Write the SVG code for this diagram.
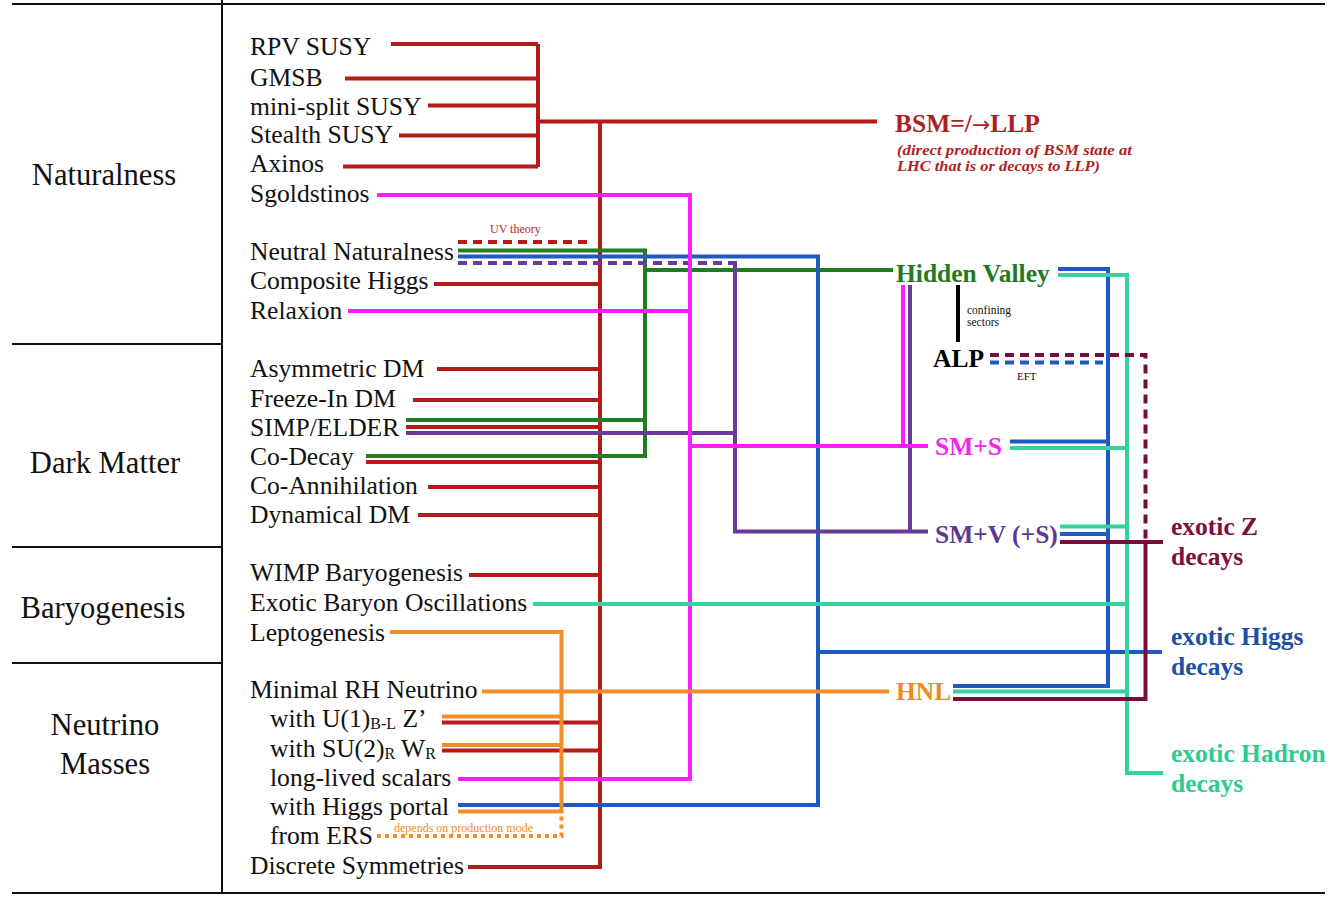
<svg xmlns="http://www.w3.org/2000/svg" width="1336" height="897" viewBox="0 0 1336 897">
<style>
text{font-family:"Liberation Serif","Times New Roman",serif;}
.cat{font-size:30.6px;fill:#111;text-anchor:middle;}
.it{font-size:25.6px;fill:#111;}
.sub{font-size:16px;}
.tg{font-size:25.5px;font-weight:bold;}
.small{font-size:12px;}
.note{font-size:14px;font-weight:bold;font-style:italic;fill:#b01e23;}
.tbl{stroke:#111;stroke-width:2;fill:none;}
.c{fill:none;stroke-width:4;stroke-linejoin:miter;stroke-linecap:butt;}
.red{stroke:#b51b1b;}
.mag{stroke:#ff1cff;}
.grn{stroke:#1f7d24;}
.blu{stroke:#1f5bbf;}
.pur{stroke:#6a3a98;}
.tea{stroke:#33d39a;}
.org{stroke:#f28c28;}
.mar{stroke:#7b0a3d;}
.dash{stroke-dasharray:9 6;}
.dot{stroke-dasharray:4 4;}
</style>
<g id="table">
<path class="tbl" d="M12,4 H1325 M12,893 H1325 M222,0 V893 M12,344 H222 M12,547 H222 M12,663 H222"/>
</g>
<g id="categories">
<g id="cat-naturalness"><text class="cat" x="104" y="185">Naturalness</text></g>
<g id="cat-darkmatter"><text class="cat" x="105" y="473">Dark Matter</text></g>
<g id="cat-baryogenesis"><text class="cat" x="103" y="618">Baryogenesis</text></g>
<g id="cat-neutrino"><text class="cat" x="105" y="735">Neutrino</text><text class="cat" x="105" y="774">Masses</text></g>
</g>
<g id="connectors">
<!-- red -->
<path class="c red" d="M538,44 V167"/>
<path class="c red" d="M391,44 H538 M345,78.5 H538 M428,105.5 H538 M399,135.5 H538 M343,166.5 H538"/>
<path class="c red" d="M538,121.5 H877"/>
<path class="c red" d="M468,867 H600 V121.5"/>
<path class="c red" d="M434,284 H600 M437,369 H600 M413,400 H600 M406,427 H600 M366,462 H600 M428,487 H600 M418,515 H600 M469,575 H600 M442,722.5 H600 M442,750.5 H600"/>
<path class="c red dash" d="M458,242 H593"/>
<!-- green -->
<path class="c grn" d="M458,250.5 H645 V456 H366"/>
<path class="c grn" d="M406,420 H645 M645,270 H893"/>
<!-- blue -->
<path class="c blu" d="M458,256.5 H818 V805 H458"/>
<path class="c blu" d="M818,652 H1162"/>
<path class="c blu" d="M1058,269 H1108 V686 H953"/>
<path class="c blu" d="M1010,441.5 H1108 M1060,534 H1108"/>
<path class="c blu dash" d="M990,362.5 H1103"/>
<!-- purple -->
<path class="c pur dash" d="M458,263 H733"/>
<path class="c pur" d="M733,263 H735 V531.5 H928"/>
<path class="c pur" d="M406,433 H735 M910,285 V531.5"/>
<!-- magenta -->
<path class="c mag" d="M377,195 H690 V779 H458"/>
<path class="c mag" d="M348,311 H690 M690,446 H928 M903,285 V446"/>
<!-- teal -->
<path class="c tea" d="M1058,275 H1127 V773 H1163"/>
<path class="c tea" d="M1010,448 H1127 M1060,526.5 H1127 M533,604 H1127 M953,691.5 H1127"/>
<!-- maroon -->
<path class="c mar" d="M1060,542 H1163"/>
<path class="c mar" d="M953,699 H1145.5 V542"/>
<path class="c mar dash" d="M990,355 H1145.5 V542"/>
<!-- orange -->
<path class="c org" d="M390,632 H561.5 V811.5 H458"/>
<path class="c org" d="M482,691.5 H889 M442,716.5 H561.5 M442,745 H561.5"/>
<path class="c org dot" d="M377,836 H561.5 V813"/>
<!-- black -->
<path class="c" stroke="#000" d="M958,285 V342"/>
</g>
<g id="sources">
<g id="n-rpv"><text class="it" x="250" y="55">RPV SUSY</text></g>
<g id="n-gmsb"><text class="it" x="250" y="86">GMSB</text></g>
<g id="n-minisplit"><text class="it" x="250" y="115">mini-split SUSY</text></g>
<g id="n-stealth"><text class="it" x="250" y="143">Stealth SUSY</text></g>
<g id="n-axinos"><text class="it" x="250" y="172">Axinos</text></g>
<g id="n-sgoldstinos"><text class="it" x="250" y="202">Sgoldstinos</text></g>
<g id="n-neutralnat"><text class="it" x="250" y="260">Neutral Naturalness</text></g>
<g id="n-composite"><text class="it" x="250" y="289">Composite Higgs</text></g>
<g id="n-relaxion"><text class="it" x="250" y="319">Relaxion</text></g>
<g id="n-asym"><text class="it" x="250" y="377">Asymmetric DM</text></g>
<g id="n-freeze"><text class="it" x="250" y="407">Freeze-In DM</text></g>
<g id="n-simp"><text class="it" x="250" y="436">SIMP/ELDER</text></g>
<g id="n-codecay"><text class="it" x="250" y="465">Co-Decay</text></g>
<g id="n-coann"><text class="it" x="250" y="494">Co-Annihilation</text></g>
<g id="n-dyn"><text class="it" x="250" y="523">Dynamical DM</text></g>
<g id="n-wimp"><text class="it" x="250" y="581">WIMP Baryogenesis</text></g>
<g id="n-exoticbaryon"><text class="it" x="250" y="611">Exotic Baryon Oscillations</text></g>
<g id="n-lepto"><text class="it" x="250" y="641">Leptogenesis</text></g>
<g id="n-minimalrh"><text class="it" x="250" y="698">Minimal RH Neutrino</text></g>
<g id="n-u1"><text class="it" x="270" y="727">with U(1)<tspan class="sub" dy="2">B-L</tspan><tspan dy="-2"> Z’</tspan></text></g>
<g id="n-su2"><text class="it" x="270" y="757">with SU(2)<tspan class="sub" dy="2">R</tspan><tspan dy="-2"> W</tspan><tspan class="sub" dy="2">R</tspan></text></g>
<g id="n-llscalars"><text class="it" x="270" y="786">long-lived scalars</text></g>
<g id="n-higgsportal"><text class="it" x="270" y="815">with Higgs portal</text></g>
<g id="n-ers"><text class="it" x="270" y="844">from ERS</text></g>
<g id="n-discrete"><text class="it" x="250" y="874">Discrete Symmetries</text></g>
</g>
<g id="annotations">
<text class="small" x="490" y="233" fill="#b52a2a">UV theory</text>
<text class="small" x="394" y="832" fill="#f28c28">depends on production mode</text>
<text x="967" y="314" font-size="11.5" fill="#111">confining</text>
<text x="967" y="326" font-size="11.5" fill="#111">sectors</text>
<text x="1017" y="380" font-size="11" fill="#111">EFT</text>
</g>
<g id="targets">
<g id="t-bsm"><text class="tg" x="895" y="132" fill="#b01e23">BSM=/<tspan font-family="DejaVu Sans, sans-serif" font-weight="normal" font-size="22">→</tspan>LLP</text>
<text class="note" x="897" y="155" textLength="235" lengthAdjust="spacingAndGlyphs">(direct production of BSM state at</text>
<text class="note" x="897" y="171" textLength="203" lengthAdjust="spacingAndGlyphs">LHC that is or decays to LLP)</text></g>
<g id="t-hv"><text class="tg" x="896" y="282" fill="#217a21">Hidden Valley</text></g>
<g id="t-alp"><text class="tg" x="933" y="367" fill="#000">ALP</text></g>
<g id="t-sms"><text class="tg" x="935" y="455" fill="#f425e8">SM+S</text></g>
<g id="t-smv"><text class="tg" x="935" y="543" fill="#5e3891">SM+V (+S)</text></g>
<g id="t-hnl"><text class="tg" x="896" y="700" fill="#f08a1c">HNL</text></g>
<g id="t-exz"><text class="tg" x="1171" y="535" fill="#7d0f3c">exotic Z</text><text class="tg" x="1171" y="565" fill="#7d0f3c">decays</text></g>
<g id="t-exh"><text class="tg" x="1171" y="645" fill="#1e4fa8">exotic Higgs</text><text class="tg" x="1171" y="675" fill="#1e4fa8">decays</text></g>
<g id="t-exhad"><text class="tg" x="1171" y="762" fill="#2dcb8f">exotic Hadron</text><text class="tg" x="1171" y="792" fill="#2dcb8f">decays</text></g>
</g>
</svg>
